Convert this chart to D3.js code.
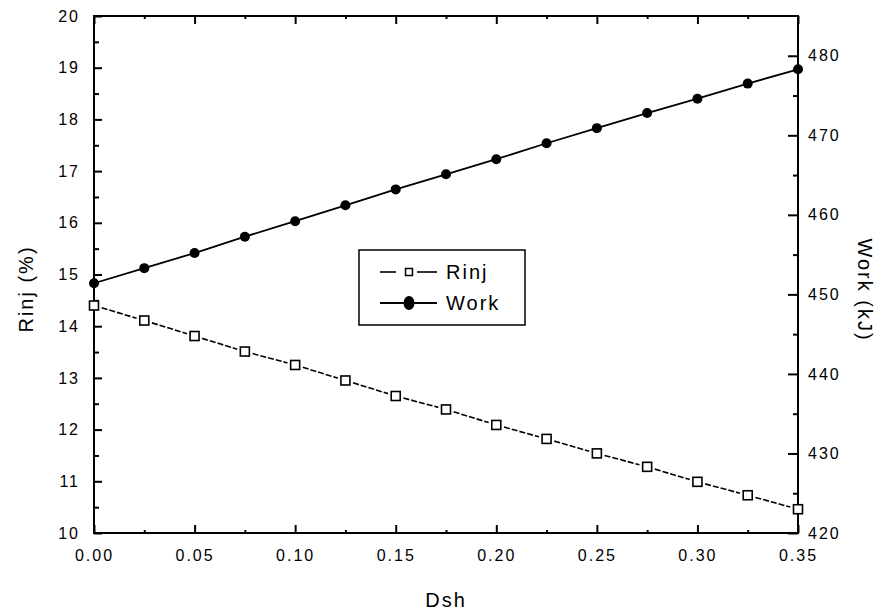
<!DOCTYPE html>
<html>
<head>
<meta charset="utf-8">
<script src="https://cdn.jsdelivr.net/npm/d3@7"></script>
<style>
body{margin:0;background:#fff;}
text{font-family:"Liberation Sans",Arial,sans-serif;fill:#000;}
</style>
</head>
<body>
<svg id="c" width="881" height="612"></svg>
<script>
const dsh = [0,0.025,0.05,0.075,0.1,0.125,0.15,0.175,0.2,0.225,0.25,0.275,0.3,0.325,0.35];
const rinj = [14.4,14.11,13.81,13.51,13.25,12.95,12.65,12.39,12.09,11.82,11.54,11.28,10.99,10.73,10.46];
const work = [451.4,453.3,455.2,457.25,459.2,461.2,463.2,465.1,467.0,469.0,470.9,472.8,474.6,476.5,478.3];
const xTicks = [0,0.05,0.1,0.15,0.2,0.25,0.3,0.35];
const xMinor = [0.025,0.075,0.125,0.175,0.225,0.275,0.325];
const yLTicks = [10,11,12,13,14,15,16,17,18,19,20];
const yLMinor = [10.5,11.5,12.5,13.5,14.5,15.5,16.5,17.5,18.5,19.5];
const yRTicks = [420,430,440,450,460,470,480];
const yRMinor = [425,435,445,455,465,475];
const seriesNames = ["Rinj","Work"];

const L=94,R=798,T=16,B=533;
const svg = d3.select("#c");
const x = d3.scaleLinear().domain([0,0.35]).range([L,R]);
const yL = d3.scaleLinear().domain([10,20]).range([B,T]);
const yR = d3.scaleLinear().domain([420,485]).range([B,T]);

function styleAxis(g){
  g.select(".domain").remove();
  g.selectAll(".tick line").attr("stroke","#000").attr("stroke-width",2);
  g.selectAll(".tick text").attr("font-size",16).attr("letter-spacing","2px")
   .attr("font-family","Liberation Sans, Arial, sans-serif").attr("fill","#000");
}
// bottom
svg.append("g").attr("transform",`translate(0,${B})`)
  .call(d3.axisBottom(x).tickValues(xTicks).tickSize(-8).tickPadding(17).tickFormat(d3.format(".2f"))).call(styleAxis);
svg.append("g").attr("transform",`translate(0,${B})`)
  .call(d3.axisBottom(x).tickValues(xMinor).tickSize(-3).tickFormat("")).call(styleAxis);
// top
svg.append("g").attr("transform",`translate(0,${T})`)
  .call(d3.axisTop(x).tickValues(xTicks).tickSize(-8).tickFormat("")).call(styleAxis);
svg.append("g").attr("transform",`translate(0,${T})`)
  .call(d3.axisTop(x).tickValues(xMinor).tickSize(-3).tickFormat("")).call(styleAxis);
// left
svg.append("g").attr("transform",`translate(${L},0)`)
  .call(d3.axisLeft(yL).tickValues(yLTicks).tickSize(-8).tickPadding(14).tickFormat(d3.format("d"))).call(styleAxis);
svg.append("g").attr("transform",`translate(${L},0)`)
  .call(d3.axisLeft(yL).tickValues(yLMinor).tickSize(-5).tickFormat("")).call(styleAxis);
// right
svg.append("g").attr("transform",`translate(${R},0)`)
  .call(d3.axisRight(yR).tickValues(yRTicks).tickSize(-10).tickPadding(10).tickFormat(d3.format("d"))).call(styleAxis);
svg.append("g").attr("transform",`translate(${R},0)`)
  .call(d3.axisRight(yR).tickValues(yRMinor).tickSize(-5).tickFormat("")).call(styleAxis);

// frame
svg.append("rect").attr("x",L).attr("y",T).attr("width",R-L).attr("height",B-T)
  .attr("fill","none").attr("stroke","#000").attr("stroke-width",2);

// Rinj dashed segments trimmed around markers
const gap = 8;
const plot = svg.append("g");
for(let i=0;i<dsh.length-1;i++){
  const x1=x(dsh[i]), y1=yL(rinj[i]), x2=x(dsh[i+1]), y2=yL(rinj[i+1]);
  const dx=x2-x1, dy=y2-y1, len=Math.hypot(dx,dy), ux=dx/len, uy=dy/len;
  plot.append("line").attr("x1",x1+ux*gap).attr("y1",y1+uy*gap)
    .attr("x2",x2-ux*gap).attr("y2",y2-uy*gap)
    .attr("stroke","#000").attr("stroke-width",1.6).attr("stroke-dasharray","6,2");
}
plot.selectAll("rect.sq").data(dsh).join("rect").attr("class","sq")
  .attr("x",(d)=>x(d)-4.5).attr("y",(d,i)=>yL(rinj[i])-4.5)
  .attr("width",9).attr("height",9).attr("fill","#fff").attr("stroke","#000").attr("stroke-width",1.6);

// Work solid line
plot.append("path").datum(dsh).attr("fill","none").attr("stroke","#000").attr("stroke-width",1.8)
  .attr("d",d3.line().x(d=>x(d)).y((d,i)=>yR(work[i])));
plot.selectAll("circle.wk").data(dsh).join("circle").attr("class","wk")
  .attr("cx",d=>x(d)).attr("cy",(d,i)=>yR(work[i])).attr("r",5).attr("fill","#000");

// Legend
const lg = svg.append("g");
lg.append("rect").attr("x",359).attr("y",250).attr("width",166).attr("height",75)
  .attr("fill","#fff").attr("stroke","#000").attr("stroke-width",1.5);
lg.append("line").attr("x1",380).attr("x2",396).attr("y1",272).attr("y2",272).attr("stroke","#000").attr("stroke-width",1.6);
lg.append("line").attr("x1",417).attr("x2",437).attr("y1",272).attr("y2",272).attr("stroke","#000").attr("stroke-width",1.6);
lg.append("rect").attr("x",405.5).attr("y",268.5).attr("width",7).attr("height",7).attr("fill","#fff").attr("stroke","#000").attr("stroke-width",1.5);
lg.append("line").attr("x1",380).attr("x2",437).attr("y1",303).attr("y2",303).attr("stroke","#000").attr("stroke-width",1.8);
lg.append("ellipse").attr("cx",409).attr("cy",303).attr("rx",5.5).attr("ry",7).attr("fill","#000");
lg.selectAll("text.lt").data(seriesNames).join("text").attr("class","lt")
  .attr("x",446).attr("y",(d,i)=>272+i*31).attr("dy","0.36em")
  .attr("font-size",20).attr("letter-spacing","2px").text(d=>d);

// Axis titles
svg.append("text").attr("transform","translate(33,289) rotate(-90)").attr("text-anchor","middle")
  .attr("font-size",20).attr("letter-spacing","2px").text("Rinj (%)");
svg.append("text").attr("transform","translate(858,290) rotate(90)").attr("text-anchor","middle")
  .attr("font-size",20).attr("letter-spacing","2px").text("Work (kJ)");
svg.append("text").attr("x",446).attr("y",607).attr("text-anchor","middle")
  .attr("font-size",20).attr("letter-spacing","2px").text("Dsh");
</script>
</body>
</html>
